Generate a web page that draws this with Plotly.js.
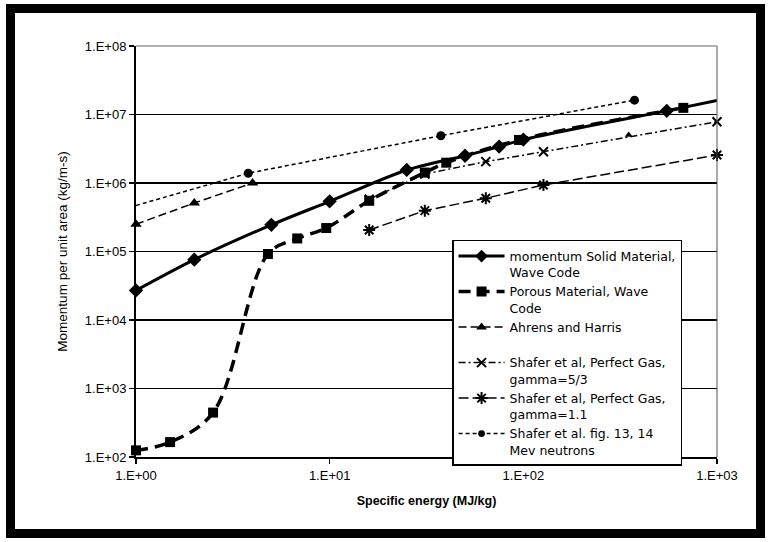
<!DOCTYPE html>
<html>
<head>
<meta charset="utf-8">
<script src="https://cdn.plot.ly/plotly-3.0.1.min.js"></script>
<style>
  html, body { margin: 0; padding: 0; background: #fff; }
  #wrap { position: relative; width: 770px; height: 542px; }
  #chart { width: 770px; height: 542px; }
  #frame {
    position: absolute; left: 6px; top: 4px; width: 759px; height: 534px;
    box-sizing: border-box; border: 9px solid #000; pointer-events: none;
  }
</style>
</head>
<body>
<div id="wrap">
  <div id="chart"></div>
  <div id="frame"></div>
</div>
<script>
// Specific energy (MJ/kg) vs momentum per unit area (kg/m-s)

// momentum Solid Material, Wave Code
const solidX = [1, 2, 5, 10, 25, 50, 75, 100, 550, 1000];
const solidY = [2.7e4, 7.6e4, 2.45e5, 5.4e5, 1.55e6, 2.5e6, 3.4e6, 4.3e6, 1.13e7, 1.6e7];

// Porous Material, Wave Code
const porousX = [1, 1.5, 2.5, 4.8, 6.8, 9.6, 16, 31, 40, 95, 670];
const porousY = [125, 165, 445, 9.2e4, 1.55e5, 2.2e5, 5.5e5, 1.42e6, 1.98e6, 4.25e6, 1.25e7];

// Ahrens and Harris
const ahrensX = [1, 2, 4, null, 350];
const ahrensY = [2.5e5, 5.1e5, 1.0e6, null, 5.0e6];

// Shafer et al, Perfect Gas, gamma=5/3
const gas53X = [16, 31, 64, 127, 1000];
const gas53Y = [5.8e5, 1.35e6, 2.05e6, 2.86e6, 7.85e6];

// Shafer et al, Perfect Gas, gamma=1.1
const gas11X = [16, 31, 64, 127, 1000];
const gas11Y = [2.06e5, 3.95e5, 6.0e5, 9.35e5, 2.56e6];

// Shafer et al. fig. 13, 14 Mev neutrons
const neutronX = [1, 3.8, 37.5, 375];
const neutronY = [4.7e5, 1.39e6, 4.9e6, 1.62e7];

const xTickVals = [1, 10, 100, 1000];
const xTickText = ['1.E+00', '1.E+01', '1.E+02', '1.E+03'];
const yTickVals = [1e2, 1e3, 1e4, 1e5, 1e6, 1e7, 1e8];
const yTickText = ['1.E+02', '1.E+03', '1.E+04', '1.E+05', '1.E+06', '1.E+07', '1.E+08'];

const names = [
  'momentum Solid Material,<br>Wave Code',
  'Porous Material, Wave<br>Code',
  'Ahrens and Harris<br>\u00A0',
  'Shafer et al, Perfect Gas,<br>gamma=5/3',
  'Shafer et al, Perfect Gas,<br>gamma=1.1',
  'Shafer et al. fig. 13, 14<br>Mev neutrons'
];

const ink = '#000';

const traces = [
  {
    x: solidX, y: solidY, name: names[0], mode: 'lines+markers',
    line: { color: ink, width: 3, shape: 'spline', smoothing: 0.8 },
    marker: { symbol: 'diamond', size: solidX.map((v, i) => i === solidX.length - 1 ? 0 : 11),
              color: ink, opacity: 1, line: { width: 0 } }
  },
  {
    x: gas53X, y: gas53Y, name: names[3], mode: 'lines+markers',
    line: { color: ink, width: 1.5, dash: '7px,3px,2px,3px' },
    marker: { symbol: 'x-thin-open', size: 9, color: ink, opacity: 1, line: { color: ink, width: 2 } }
  },
  {
    x: gas11X, y: gas11Y, name: names[4], mode: 'lines+markers',
    line: { color: ink, width: 1.5, dash: '10px,4px' },
    marker: { symbol: 'asterisk-open', size: 10, color: ink, opacity: 1, line: { color: ink, width: 2 } }
  },
  {
    x: ahrensX, y: ahrensY, name: names[2], mode: 'lines+markers', connectgaps: false,
    line: { color: ink, width: 1.5, dash: '8px,4px' },
    marker: { symbol: 'triangle-up', size: [10, 10, 10, 10, 7], color: ink, opacity: 1, line: { width: 0 } }
  },
  {
    x: neutronX, y: neutronY, name: names[5], mode: 'lines+markers',
    line: { color: ink, width: 1.5, dash: '4px,3px' },
    marker: { symbol: 'circle', size: neutronX.map((v, i) => i === 0 ? 0 : 9),
              color: ink, opacity: 1, line: { width: 0 } }
  },
  {
    x: porousX, y: porousY, name: names[1], mode: 'lines+markers',
    line: { color: ink, width: 3.5, dash: '12px,7px', shape: 'spline', smoothing: 1 },
    marker: { symbol: 'square', size: 10, color: ink, opacity: 1, line: { width: 0 } }
  }
];
traces.forEach(t => { t.cliponaxis = false; t.hoverinfo = 'x+y'; });

const legendOrder = [0, 5, 3, 1, 2, 4];
legendOrder.forEach((ti, rank) => { traces[ti].legendrank = rank + 1; });

const font = { family: 'Liberation Sans, Arial, sans-serif', color: ink };
const legendFont = { family: 'DejaVu Sans, Liberation Sans, sans-serif', color: ink, size: 12.5 };

const layout = {
  width: 770, height: 542,
  margin: { l: 136, r: 53, t: 46, b: 85 },
  paper_bgcolor: '#fff', plot_bgcolor: '#fff',
  font: Object.assign({ size: 13 }, font),
  showlegend: true,
  legend: {
    x: 0.544, y: 0.528, xanchor: 'left', yanchor: 'top',
    bgcolor: '#fff', bordercolor: ink, borderwidth: 1.5,
    font: legendFont,
    tracegroupgap: 0, itemwidth: 46, valign: 'top',
    traceorder: 'normal'
  },
  xaxis: {
    type: 'log', range: [0, 3],
    tickvals: xTickVals, ticktext: xTickText,
    showgrid: false, zeroline: false,
    showline: true, linecolor: ink, linewidth: 2,
    ticks: 'outside', ticklen: 5, tickwidth: 1.5, tickcolor: ink,
    tickfont: Object.assign({ size: 13 }, font),
    title: { text: 'Specific energy (MJ/kg)', font: Object.assign({ size: 12.5, weight: 'bold' }, font), standoff: 15 }
  },
  yaxis: {
    type: 'log', range: [2, 8],
    tickvals: yTickVals, ticktext: yTickText,
    showgrid: true, gridcolor: ink, gridwidth: 1.5, zeroline: false,
    showline: true, linecolor: ink, linewidth: 2,
    ticks: 'outside', ticklen: 5, tickwidth: 1.5, tickcolor: ink,
    tickfont: Object.assign({ size: 13 }, font),
    title: { text: 'Momentum per unit area (kg/m-s)', font: Object.assign({ size: 13.5 }, font), standoff: 14 }
  },
  shapes: [
    { type: 'line', xref: 'paper', yref: 'paper', x0: 1, x1: 1, y0: 0, y1: 1,
      line: { color: '#555', width: 1 } },
    { type: 'line', xref: 'paper', yref: 'paper', x0: 0, x1: 1, y0: 1, y1: 1,
      line: { color: '#666', width: 1 } }
  ]
};

Plotly.newPlot('chart', traces, layout, { displayModeBar: false, staticPlot: true });
</script>
</body>
</html>
